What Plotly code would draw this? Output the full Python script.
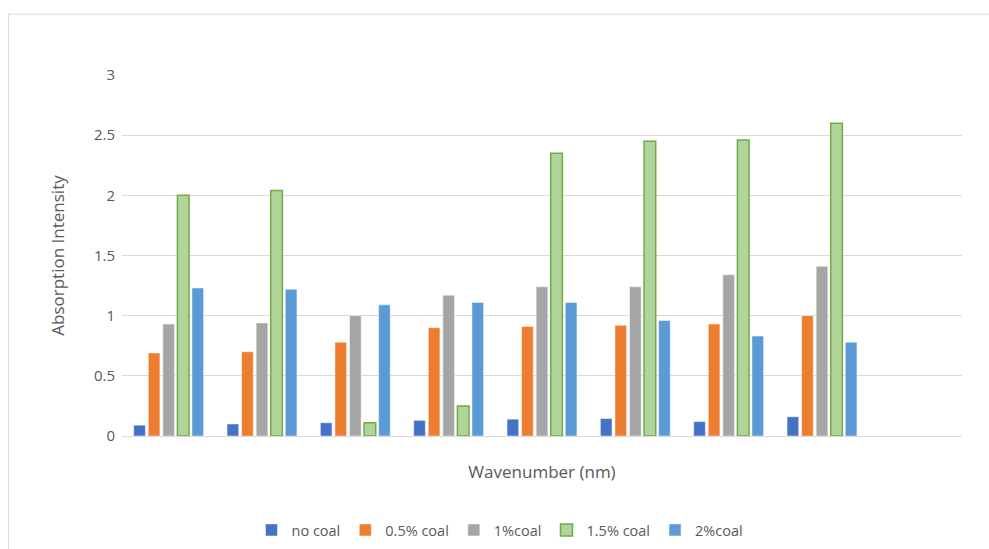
import plotly.graph_objects as go

# Absorption intensity per sample position for each coal content
categories = ["1", "2", "3", "4", "5", "6", "7", "8", "9"]
series_names = ["no coal", "0.5% coal", "1%coal", "1.5% coal", "2%coal"]
no_coal = [0.09, 0.10, 0.11, 0.13, 0.14, 0.145, 0.12, 0.16, None]
coal_05 = [0.69, 0.70, 0.78, 0.90, 0.91, 0.92, 0.93, 1.00, None]
coal_1 = [0.93, 0.94, 1.00, 1.17, 1.24, 1.24, 1.34, 1.41, None]
coal_15 = [2.00, 2.04, 0.11, 0.25, 2.35, 2.45, 2.46, 2.60, None]
coal_2 = [1.23, 1.22, 1.09, 1.11, 1.11, 0.96, 0.83, 0.78, None]
y_ticks = [0, 0.5, 1, 1.5, 2, 2.5, 3]

values = [no_coal, coal_05, coal_1, coal_15, coal_2]
fills = ["#4472C4", "#ED7D31", "#A5A5A5", "#B0D49A", "#5B9BD5"]
edges = ["rgba(255,255,255,0.6)", "rgba(255,255,255,0.6)", "rgba(255,255,255,0.6)",
         "#70AD47", "rgba(255,255,255,0.6)"]
edge_w = [0.8, 0.8, 0.8, 1.5, 0.8]

FONT = "'Open Sans', sans-serif"
TXT = "#595959"

fig = go.Figure()
for name, vals, fc, ec, ew in zip(series_names, values, fills, edges, edge_w):
    fig.add_trace(go.Bar(
        x=categories, y=vals, name=name,
        marker=dict(color=fc, line=dict(color=ec, width=ew)),
    ))

fig.update_layout(
    width=989, height=549,
    margin=dict(l=122, r=27, t=75, b=113, autoexpand=False),
    paper_bgcolor="white", plot_bgcolor="white",
    barmode="group", bargap=0.22, bargroupgap=0.2,
    font=dict(family=FONT, size=14, color=TXT),
    legend=dict(
        orientation="h", x=0.45, xanchor="center",
        yref="container", y=(549 - 530) / 549, yanchor="middle",
        font=dict(family=FONT, size=14.5, color=TXT),
        itemwidth=30, traceorder="normal",
    ),
    xaxis=dict(
        type="category", range=[-0.5, 8.5], showticklabels=False,
        showgrid=False, zeroline=False, showline=False, ticks="",
        automargin=False,
        title=dict(text="Wavenumber (nm)", standoff=30,
                   font=dict(family=FONT, size=17, color=TXT)),
    ),
    yaxis=dict(
        range=[0, 3], tickvals=y_ticks, ticktext=[f"{t:g}" for t in y_ticks],
        showgrid=True, gridcolor="#D9D9D9", gridwidth=1,
        zeroline=True, zerolinecolor="#D9D9D9", zerolinewidth=1,
        showline=False, ticks="", ticklen=0, automargin=False,
        ticklabelstandoff=6,
        tickfont=dict(family=FONT, size=15, color=TXT),
        title=dict(text="Absorption Intensity", standoff=24,
                   font=dict(family=FONT, size=17, color=TXT)),
    ),
    showlegend=True,
)

# Outer chart frame (only its left and top edges fall inside the page)
fig.add_shape(
    type="rect", xref="paper", yref="paper",
    x0=(8.5 - 122) / 840, x1=(1000 - 122) / 840,
    y0=(436.5 - 560) / 361.2, y1=(436.5 - 14.5) / 361.2,
    line=dict(color="#D9D9D9", width=1), fillcolor="rgba(0,0,0,0)", layer="below",
)

fig.write_html("out.html")
